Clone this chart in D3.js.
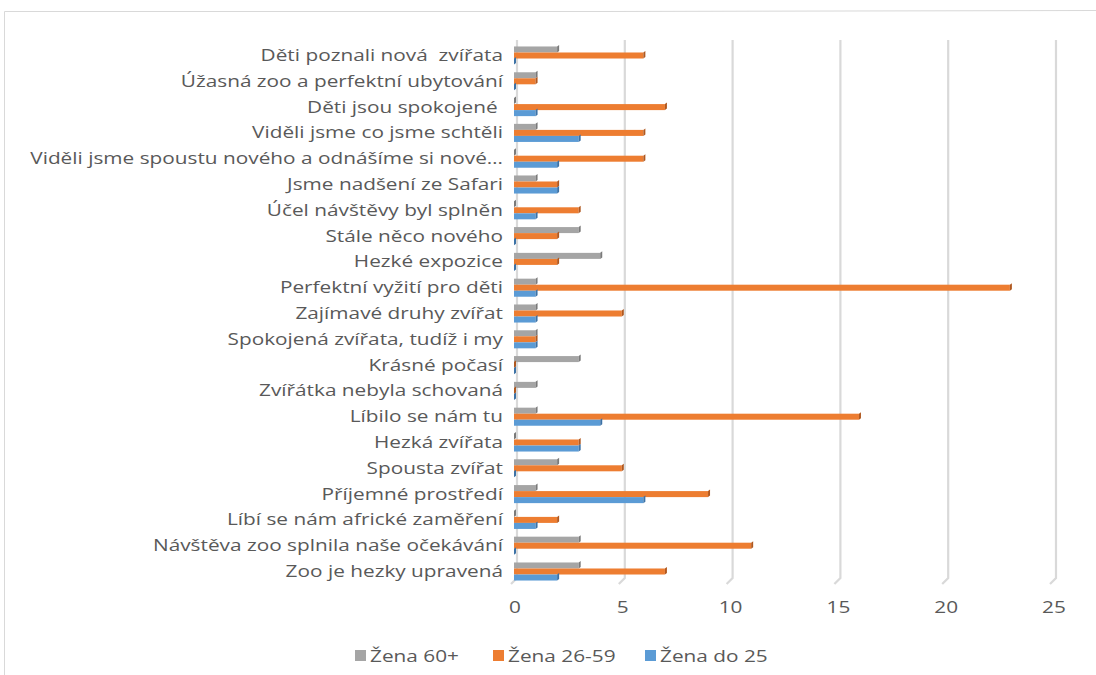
<!DOCTYPE html>
<html><head><meta charset="utf-8">
<script src="https://cdn.jsdelivr.net/npm/d3@7"></script>
<style>body{margin:0;background:#fff;} text{font-family:"Open Sans",sans-serif;fill:#595959;white-space:pre;}</style>
</head><body><svg id="c" width="1096" height="675"></svg>
<script>
const categories = ["Děti poznali nová  zvířata","Úžasná zoo a perfektní ubytování","Děti jsou spokojené ","Viděli jsme co jsme schtěli","Viděli jsme spoustu nového a odnášíme si nové…","Jsme nadšení ze Safari","Účel návštěvy byl splněn","Stále něco nového","Hezké expozice","Perfektní vyžití pro děti","Zajímavé druhy zvířat","Spokojená zvířata, tudíž i my","Krásné počasí","Zvířátka nebyla schovaná","Líbilo se nám tu","Hezká zvířata","Spousta zvířat","Příjemné prostředí","Líbí se nám africké zaměření","Návštěva zoo splnila naše očekávání","Zoo je hezky upravená"];
const seriesNames = ["Žena 60+","Žena 26-59","Žena do 25"];
const zena60 = [2,1,0,1,0,1,0,3,4,1,1,1,3,1,1,0,2,1,0,3,3];
const zena26 = [6,1,7,6,6,2,3,2,2,23,5,1,0,0,16,3,5,9,2,11,7];
const zenaDo25 = [0,0,1,3,2,2,1,0,0,1,1,1,0,0,4,3,0,6,1,0,2];
const xTicks = [0,5,10,15,20,25];
const colors = ["#a5a5a5","#ed7d31","#5b9bd5"];
const dark = ["#7a7a7a","#b0581f","#3c72a6"];

const series = [zena60, zena26, zenaDo25];
const svg = d3.select("#c");

svg.append("path").attr("d","M4.5,675 L4.5,11.5 L600,11.5 L1096,10.5").attr("fill","none").attr("stroke","#d9d9d9");

const x = d3.scaleLinear().domain([0,25]).range([514,1053]);
const y = d3.scaleBand().domain(categories).range([42.6,584.4]).paddingInner(0.3).paddingOuter(0.15);
const ys = d3.scaleBand().domain(seriesNames).range([0,y.bandwidth()]);

const g = svg.append("g");
xTicks.forEach(t=>{
  const xb = x(t)+3;
  g.append("path").attr("d",`M${xb},40 L${xb},578 L${xb-6},584`).attr("fill","none").attr("stroke","#d9d9d9").attr("stroke-width",2.2);
});

const bars = svg.append("g");
categories.forEach((c,i)=>{
  series.forEach((s,j)=>{
    const v = s[i];
    const y0 = y(c)+ys(seriesNames[j]);
    const h = ys.bandwidth();
    const x0 = x(0), x1 = x(v);
    bars.append("rect").attr("x",x0).attr("y",y0).attr("width",Math.max(0,x1-x0)).attr("height",h).attr("fill",colors[j]);
    bars.append("path").attr("d",`M${x1},${y0} L${x1+2},${y0-1.5} L${x1+2},${y0+h-1.5} L${x1},${y0+h} Z`).attr("fill",dark[j]);
  });
});

const lab = svg.append("g");
categories.forEach(c=>{
  lab.append("text").attr("transform",`translate(503,${y(c)+y.bandwidth()/2+5.5}) scale(1.3,1)`)
    .attr("text-anchor","end").attr("font-size",16).text(c);
});

xTicks.forEach(t=>{
  svg.append("text").attr("transform",`translate(${x(t)+1},613) scale(1.3,1)`).attr("text-anchor","middle").attr("font-size",16).text(t);
});

const legX = [355,493,645];
seriesNames.forEach((n,j)=>{
  svg.append("rect").attr("x",legX[j]).attr("y",650).attr("width",11).attr("height",11).attr("fill",colors[j]);
  svg.append("text").attr("transform",`translate(${legX[j]+15},662) scale(1.3,1)`).attr("font-size",16).text(n);
});
</script></body></html>
